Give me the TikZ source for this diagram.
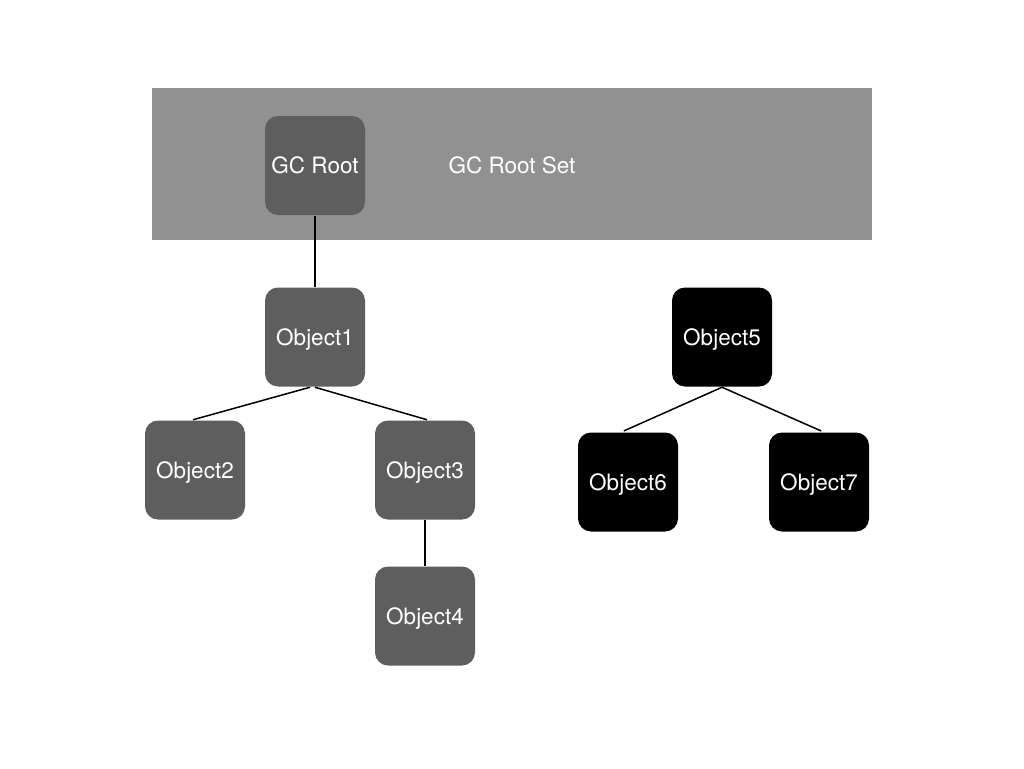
\documentclass[tikz,border=0pt]{standalone}
\usepackage{fontspec}
\setmainfont{TeX Gyre Heros}
\usepackage{tikz}
\usetikzlibrary{positioning}
\definecolor{setgray}{RGB}{145,145,145}
\definecolor{objgray}{RGB}{94,94,94}
\begin{document}
\begin{tikzpicture}[x=1pt,y=-1pt
	,line width=1.5pt
	,font=\fontsize{22.5}{27}\selectfont]
  \tikzstyle{obj}
  =[rounded corners=13pt,fill=objgray,text=white,
    minimum width=100pt,minimum height=99pt,inner sep=0pt,
    text height=16.2pt,text depth=0pt]
  \tikzstyle{dead}=[obj,fill=black]

  \useasboundingbox (0,0) rectangle (1024,768);
  % root set
  \fill[setgray] (152,88) rectangle (872,240);
  \node[obj](gcroot) at (315,165.5) {GC Root};
  \node[text=white,text height=16.2pt,text depth=0pt](rootset)
    at (512,165.5) {GC Root Set};
  % reachable
  \node[obj](obj1) at (315,337) {Object1};
  \node[obj](obj2) at (195,470) {Object2};
  \node[obj](obj3) at (425,470) {Object3};
  \node[obj](obj4) at (425,616) {Object4};
  % unreachable
  \node[dead](obj5) at (722,337) {Object5};
  \node[dead](obj6) at (628,482) {Object6};
  \node[dead](obj7) at (819,482) {Object7};

  \path (gcroot) edge (obj1);
  \path ([xshift=-5pt]obj1.south) edge ([xshift=-2pt]obj2.north);
  \path (obj1.south) edge ([xshift=2pt]obj3.north);
  \path (obj3) edge (obj4);
  \path (obj5.south) edge [shorten >=2pt] ([xshift=-6pt]obj6.north);
  \path (obj5.south) edge [shorten >=2pt] ([xshift=4pt]obj7.north);
\end{tikzpicture}
\end{document}
